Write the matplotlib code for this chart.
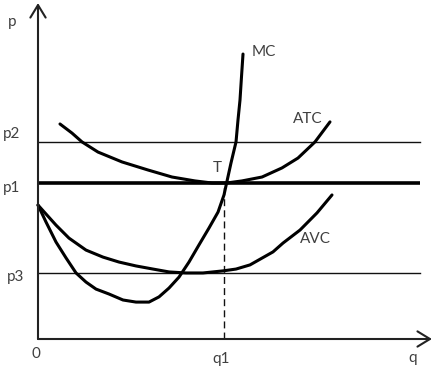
import matplotlib
matplotlib.use("Agg")
import matplotlib.pyplot as plt

# ---- data (economic units: q on x, p on y) ----
p_levels = {"p2": 7.58, "p1": 6.0, "p3": 2.52}
q1 = 5.0

mc_q = [0.0, 0.215, 0.484, 0.753, 1.022, 1.290, 1.559, 1.909, 2.285, 2.634, 2.984, 3.253, 3.522,
        3.790, 4.059, 4.328, 4.597, 4.839, 5.0, 5.07, 5.188, 5.323, 5.376, 5.430, 5.470, 5.511]
mc_p = [5.15, 4.50, 3.73, 3.12, 2.54, 2.19, 1.92, 1.73, 1.50, 1.42, 1.42, 1.62, 1.96,
        2.38, 2.96, 3.62, 4.27, 4.88, 5.54, 6.0, 6.77, 7.58, 8.42, 9.19, 10.08, 10.96]

atc_q = [0.591, 0.914, 1.183, 1.613, 2.258, 2.957, 3.602, 4.220, 4.677, 5.07, 5.484, 6.022,
         6.559, 6.989, 7.446, 7.849]
atc_p = [8.27, 7.92, 7.58, 7.19, 6.81, 6.50, 6.23, 6.08, 6.0, 6.0, 6.08, 6.23,
         6.58, 6.96, 7.58, 8.35]

avc_q = [0.0, 0.484, 0.833, 1.290, 1.747, 2.177, 2.634, 3.091, 3.522, 3.978, 4.435, 4.973,
         5.323, 5.699, 6.317, 6.586, 7.043, 7.500, 7.903]
avc_p = [5.15, 4.38, 3.88, 3.42, 3.15, 2.96, 2.81, 2.69, 2.58, 2.54, 2.54, 2.62,
         2.69, 2.85, 3.35, 3.69, 4.19, 4.85, 5.54]

line_end = 10.27
text_color = "#404040"
fam = ["Lato", "DejaVu Sans"]

fig = plt.figure(figsize=(4.34, 3.69), dpi=100)
ax = fig.add_axes([0, 0, 1, 1])
ax.set_xlim(-38 / 37.2, 396 / 37.2)
ax.set_ylim(-30 / 26, 339 / 26)
ax.axis("off")

# axes with open arrowheads
arrow_kw = dict(arrowstyle="->,head_length=0.9,head_width=0.55", lw=1.5, color="#222222",
                shrinkA=0, shrinkB=0, mutation_scale=10)
ax.annotate("", xy=(0, 12.92), xytext=(0, 0), arrowprops=arrow_kw)
ax.annotate("", xy=(10.59, 0), xytext=(0, 0), arrowprops=arrow_kw)

# price lines
ax.plot([0, line_end], [p_levels["p2"]] * 2, color="#111111", lw=1.0)
ax.plot([0, line_end], [p_levels["p3"]] * 2, color="#111111", lw=1.0)
ax.plot([0, line_end], [p_levels["p1"]] * 2, color="#000000", lw=2.6, solid_capstyle="butt")

# dashed q1 line
ax.plot([q1, q1], [0, p_levels["p1"]], color="#111111", lw=1.0, dashes=(5, 3))

# curves
for xs, ys in [(mc_q, mc_p), (atc_q, atc_p), (avc_q, avc_p)]:
    ax.plot(xs, ys, color="#000000", lw=2.2, solid_capstyle="round", solid_joinstyle="round")

# labels
tk = dict(color=text_color, fontsize=11, family=fam)
ax.text(-0.70, 12.19, "p", ha="center", va="center", **tk)
ax.text(-0.70, 7.88, "p2", ha="center", va="center", **tk)
ax.text(-0.70, 5.81, "p1", ha="center", va="center", **tk)
ax.text(-0.59, 2.38, "p3", ha="center", va="center", **tk)
ax.text(-0.05, -0.58, "0", ha="center", va="center", **tk)
ax.text(4.92, -0.77, "q1", ha="center", va="center", **tk)
ax.text(10.08, -0.73, "q", ha="center", va="center", **tk)
ax.text(5.75, 11.04, "MC", ha="left", va="center", **tk)
ax.text(6.855, 8.46, "ATC", ha="left", va="center", **tk)
ax.text(4.70, 6.58, "T", ha="left", va="center", **tk)
ax.text(7.04, 3.85, "AVC", ha="left", va="center", **tk)

fig.savefig("out.png", dpi=100)
